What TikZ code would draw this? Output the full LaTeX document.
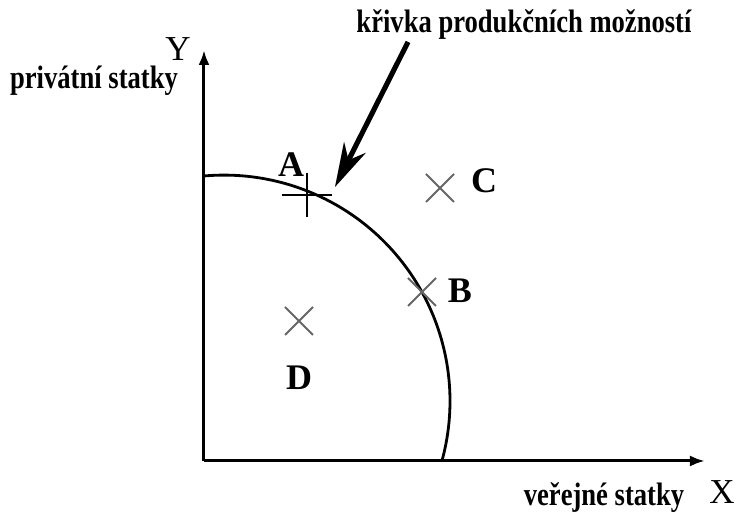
\documentclass[tikz,border=0pt]{standalone}
\usepackage{fontspec}
\setmainfont{Liberation Serif}
\usetikzlibrary{arrows.meta,shapes.misc}
\newcommand{\tallbf}[1]{\scalebox{1}[1.22]{#1}}
\tikzset{
  axisline/.style={line width=1.5pt, -{Latex[length=7.5pt,width=5.5pt]}},
  ppf/.style={line width=1.4pt},
  crossmark/.style={cross out, draw=black!60, line width=1pt, minimum size=13pt, inner sep=0pt},
  plusmark/.style={minimum width=25pt, minimum height=22pt, inner sep=0pt},
  ptlbl/.style={font=\fontsize{18}{18}\selectfont\bfseries, inner sep=0pt},
  axlbl/.style={font=\fontsize{17.5}{18}\selectfont, inner sep=0pt},
  txt/.style={font=\fontsize{13.3}{14}\selectfont\bfseries, inner sep=0pt},
  callout/.style={line width=2.5pt, -{Stealth[length=22pt,width=12pt,inset=7pt]}},
}

\begin{document}
\begin{tikzpicture}[x=0.5pt, y=0.5pt]
\useasboundingbox (0,0) rectangle (736,512);
% axes
\coordinate (O)    at (204,51);
\coordinate (ytip) at (204,462);
\coordinate (xtip) at (705,51);
\draw[axisline] (O) -- (ytip);
\draw[axisline] (O) -- (xtip);
\node[axlbl] (ylab) at (178,463) {Y};
\node[axlbl] (xlab) at (722,20)  {X};
\node[txt] (priv) at (94,431) {\tallbf{privátní statky}};
\node[txt] (verej) at (604,14) {\tallbf{veřejné statky}};
% production possibility curve
\coordinate (ppftop) at (204,336);
\draw[ppf] (ppftop) arc[start angle=95.08, end angle=-15.4, radius=226];
% points
\node[plusmark] (pA) at (307,317) {};
\draw[line width=1pt] (pA.west) -- (pA.east) (pA.north) -- (pA.south);
\node[crossmark] (pB) at (422,220) {};
\node[crossmark] (pC) at (440,324) {};
\node[crossmark] (pD) at (299,191) {};
\node[ptlbl] (lA) at (291,347) {A};
\node[ptlbl] (lB) at (460,221) {B};
\node[ptlbl] (lC) at (484,331) {C};
\node[ptlbl] (lD) at (299,134) {D};
% callout
\node[txt] (krivka) at (524,487) {\tallbf{křivka produkčních možností}};
\coordinate (cstart) at (408,470);
\coordinate (ctip)   at (335,325);
\draw[callout, black!25, shift={(3pt,-2pt)}] (cstart) -- (ctip);
\draw[callout] (cstart) -- (ctip);
\end{tikzpicture}
\end{document}
